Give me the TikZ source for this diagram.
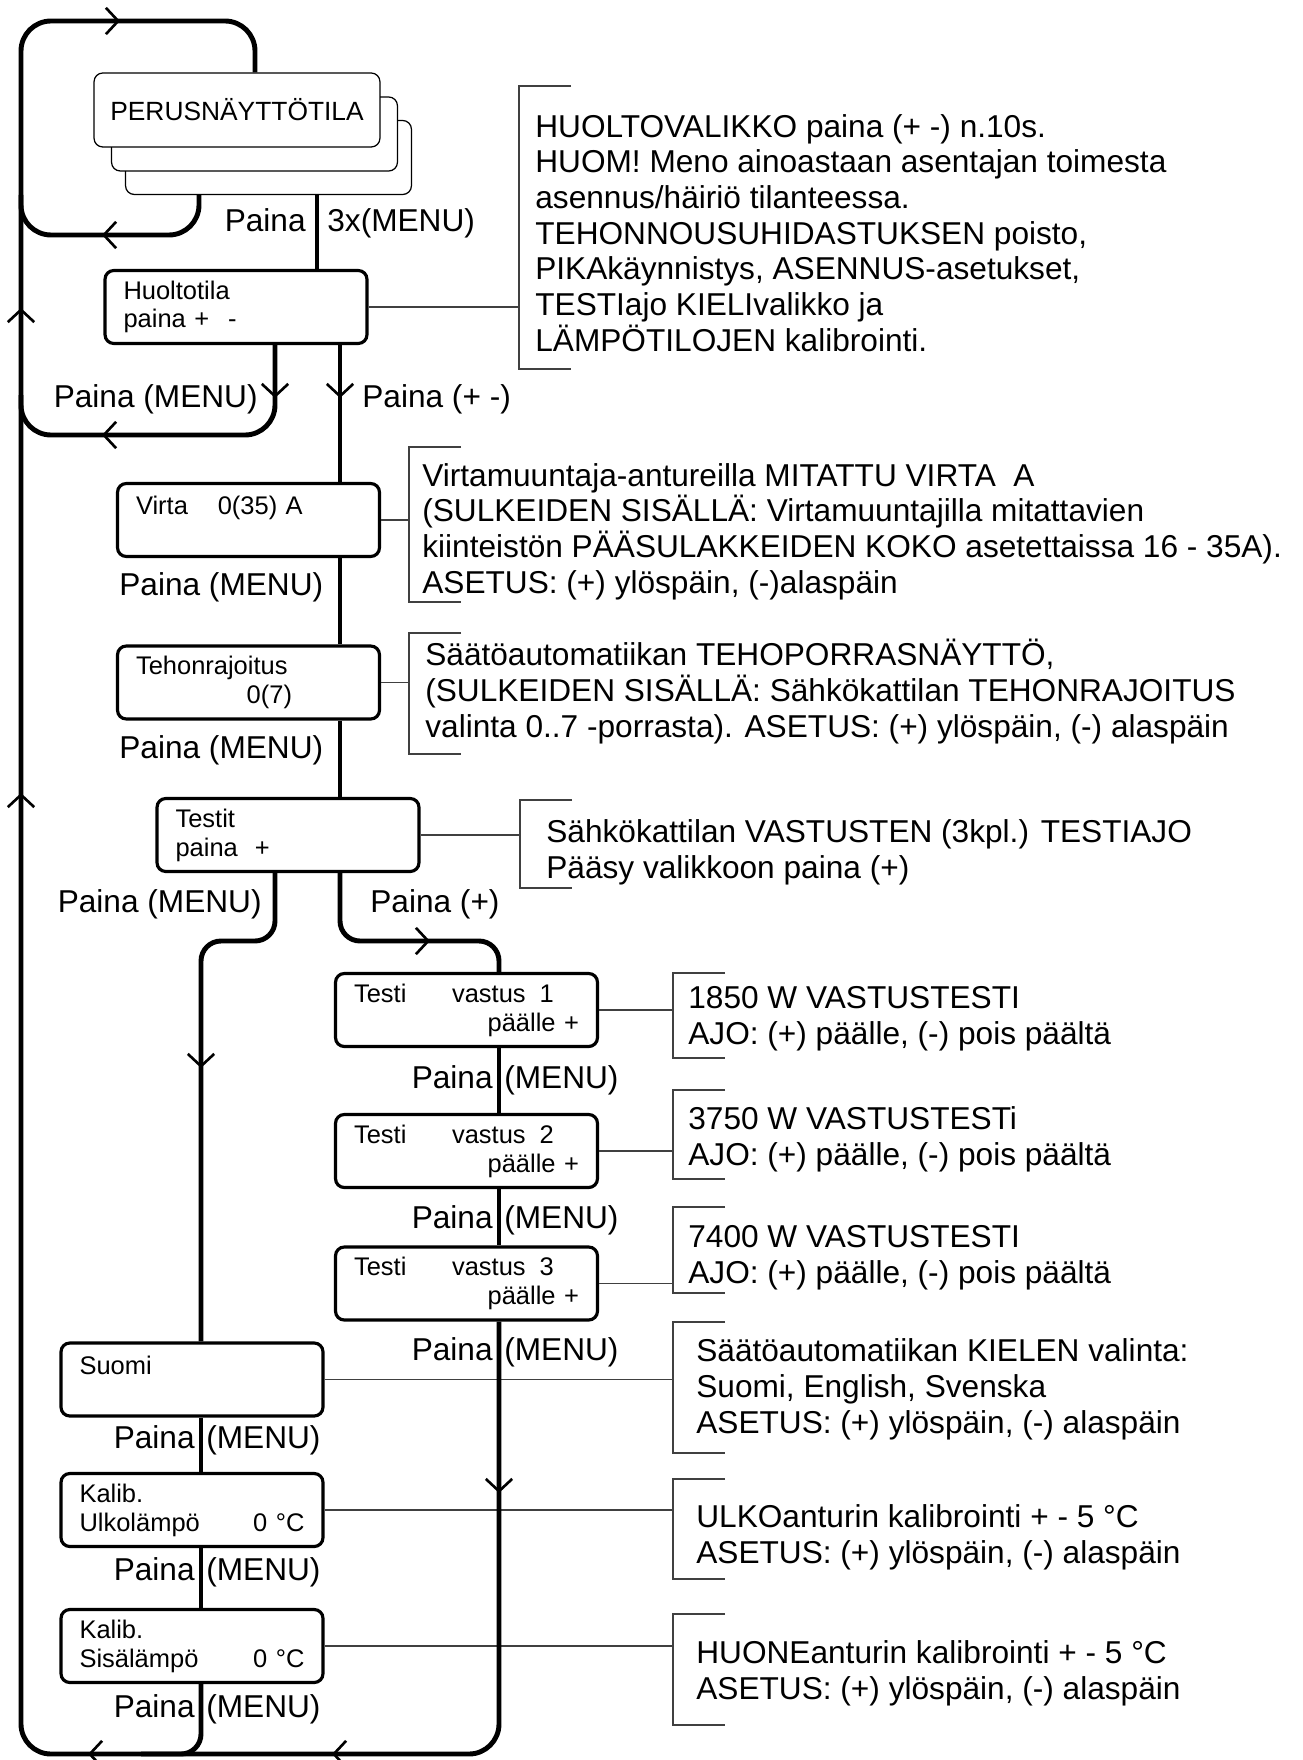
\documentclass[tikz,border=0pt]{standalone}
\usepackage{fontspec}
\setmainfont{Liberation Sans}
\usetikzlibrary{arrows.meta}

\begin{document}
\begin{tikzpicture}[x=0.02cm,y=-0.02cm,
	flow/.style={line width=2.8pt, rounded corners=#1},
	flow/.default=0.6cm,
	chev/.style={line width=1.5pt, -{Straight Barb[length=7pt,width=15pt]}},
	menubox/.style={draw, line width=1.8pt, rounded corners=5pt, minimum width=5.24cm, minimum height=1.46cm,
		text width=4.5cm, inner xsep=0.37cm, inner ysep=0pt, align=left, font=\fontsize{14.5}{16.4}\selectfont},
	stackbox/.style={draw, line width=0.7pt, fill=white, rounded corners=5pt, minimum width=5.72cm,
		minimum height=1.48cm, font=\fontsize{15}{17}\selectfont},
	lbl/.style={inner sep=0pt, font=\fontsize{18}{20.3}\selectfont},
	note/.style={lbl, align=left, anchor=base west},
	lead/.style={line width=0.6pt, black!75}]
\useasboundingbox (0,0) rectangle (1302,1760);

% main display, three layers
\node[stackbox] (perusc) at (268.5,157.5) {};
\node[stackbox] (perusb) at (254.5,134) {};
\node[stackbox] (perus) at (237,110) {PERUSNÄYTTÖTILA};

\node[menubox] (huolto) at (236,307) {Huoltotila\\paina + \hspace{6pt}-};
\node[menubox] (virta) at (248.5,520) {Virta\hspace{17pt}0(35) A\\\mbox{}};
\node[menubox] (tehon) at (248.5,682.5) {Tehonrajoitus\\\hspace*{63pt}0(7)};
\node[menubox] (testit) at (288,835) {Testit\\paina\ \ +};
\node[menubox] (testia) at (466.5,1010) {Testi\hspace{26pt}vastus\hspace{8pt}1\\\mbox{}\hfill päälle +};
\node[menubox] (testib) at (466.5,1151) {Testi\hspace{26pt}vastus\hspace{8pt}2\\\mbox{}\hfill päälle +};
\node[menubox] (testic) at (466.5,1283.5) {Testi\hspace{26pt}vastus\hspace{8pt}3\\\mbox{}\hfill päälle +};
\node[menubox] (suomi) at (192,1379.5) {Suomi\\\mbox{}};
\node[menubox] (ulko) at (192,1510) {Kalib.\\Ulkolämpö\hfill 0 °C};
\node[menubox] (sisa) at (192,1646) {Kalib.\\Sisälämpö\hfill 0 °C};

% key labels
\node[lbl, anchor=base east] (l0a) at (306,232) {Paina};
\node[lbl, anchor=base west] (l0b) at (327,232) {3x(MENU)};
\node[lbl, anchor=base east] (l1a) at (258,407) {Paina (MENU)};
\node[lbl, anchor=base west] (l1b) at (362,407) {Paina (+ -)};
\node[lbl, anchor=base west] (l2) at (119,595) {Paina (MENU)};
\node[lbl, anchor=base west] (l3) at (119,758) {Paina (MENU)};
\node[lbl, anchor=base east] (l4a) at (262,912) {Paina (MENU)};
\node[lbl, anchor=base west] (l4b) at (370,912) {Paina (+)};
\foreach \x/\y in {499/1088,499/1228,499/1360,201/1448,201/1580,201/1717}{
	\node[lbl, anchor=base east] (pa\y) at (\x-6,\y) {Paina};
	\node[lbl, anchor=base west] (pb\y) at (\x+5,\y) {(MENU)};
}

% explanations (placed by their last line)
\node[note] (n1) at (535,351) {HUOLTOVALIKKO paina (+ -) n.10s.\\HUOM! Meno ainoastaan asentajan toimesta\\asennus/häiriö tilanteessa.\\TEHONNOUSUHIDASTUKSEN poisto,\\PIKAkäynnistys, ASENNUS-asetukset,\\TESTIajo KIELIvalikko ja\\LÄMPÖTILOJEN kalibrointi.};
\node[note] (n2) at (422,593) {Virtamuuntaja-antureilla MITATTU VIRTA\ \ A\\(SULKEIDEN SISÄLLÄ: Virtamuuntajilla mitattavien\\kiinteistön PÄÄSULAKKEIDEN KOKO asetettaissa 16 - 35A).\\ASETUS: (+) ylöspäin, (-)alaspäin};
\node[note] (n3) at (425,737) {Säätöautomatiikan TEHOPORRASNÄYTTÖ,\\(SULKEIDEN SISÄLLÄ: Sähkökattilan TEHONRAJOITUS\\valinta 0..7 -porrasta). ASETUS: (+) ylöspäin, (-) alaspäin};
\node[note] (n4) at (546,878) {Sähkökattilan VASTUSTEN (3kpl.) TESTIAJO\\Pääsy valikkoon paina (+)};
\node[note] (n5) at (688,1044) {1850 W VASTUSTESTI\\AJO: (+) päälle, (-) pois päältä};
\node[note] (n6) at (688,1165) {3750 W VASTUSTESTi\\AJO: (+) päälle, (-) pois päältä};
\node[note] (n7) at (688,1283) {7400 W VASTUSTESTI\\AJO: (+) päälle, (-) pois päältä};
\node[note] (n8) at (696,1433) {Säätöautomatiikan KIELEN valinta:\\Suomi, English, Svenska\\ASETUS: (+) ylöspäin, (-) alaspäin};
\node[note] (n9) at (696,1563) {ULKOanturin kalibrointi + - 5 °C\\ASETUS: (+) ylöspäin, (-) alaspäin};
\node[note] (n10) at (696,1699) {HUONEanturin kalibrointi + - 5 °C\\ASETUS: (+) ylöspäin, (-) alaspäin};

% brackets and leaders
\foreach \x/\ya/\yb in {519/86/369,409/447/602,409/633/754,520/800/888,673/973/1058,673/1090/1179,673/1207/1293,673/1322/1453,673/1479/1579,673/1614/1725}
	\draw[lead] (\x+52,\ya) -- (\x,\ya) -- (\x,\yb) -- (\x+52,\yb);
\coordinate (kh) at (519,0);
\coordinate (kv) at (409,0);
\coordinate (kt) at (520,0);
\coordinate (kr) at (673,0);
\foreach \n/\k in {huolto/kh,virta/kv,tehon/kv,testit/kt,testia/kr,testib/kr,testic/kr,suomi/kr,ulko/kr,sisa/kr}
	\draw[lead] (\n.east) -- (\n.east -| \k);

% flow lines
\coordinate (xl) at (21,0);
\coordinate (xi) at (199,0);
\coordinate (xt) at (255,0);
\coordinate (xa) at (317,0);
\coordinate (xb) at (275,0);
\coordinate (xc) at (340,0);
\coordinate (xd) at (201,0);
\coordinate (xe) at (499,0);
\coordinate (yt) at (0,21);
\coordinate (yi) at (0,235);
\coordinate (yh) at (0,435);
\coordinate (ys) at (0,941);
\coordinate (yb) at (0,1754);
\draw[flow] (testic.south -| xe) -- (xe |- yb) -- (xl |- yb) -- (xl |- yt) -- (xt |- yt) -- (perus.north -| xt);
\draw[flow] (perusc.south -| xa) -- (huolto.north -| xa);
\draw[flow] (perusc.south -| xi) -- (xi |- yi) -- (xl |- yi) -- ++(0,-40);
\draw[flow] (huolto.south -| xb) -- (xb |- yh) -- (xl |- yh) -- ++(0,-40);
\draw[flow] (huolto.south -| xc) -- (virta.north -| xc);
\draw[flow] (virta.south -| xc) -- (tehon.north -| xc);
\draw[flow] (tehon.south -| xc) -- (testit.north -| xc);
\draw[flow=0.4cm] (testit.south -| xb) -- (xb |- ys) -- (xd |- ys) -- (suomi.north -| xd);
\draw[flow=0.4cm] (testit.south -| xc) -- (xc |- ys) -- (xe |- ys) -- (testia.north -| xe);
\draw[flow] (testia.south -| xe) -- (testib.north -| xe);
\draw[flow] (testib.south -| xe) -- (testic.north -| xe);
\draw[flow] (suomi.south -| xd) -- (ulko.north -| xd);
\draw[flow] (ulko.south -| xd) -- (sisa.north -| xd);
\draw[flow=0.4cm] (sisa.south -| xd) -- (xd |- yb) -- ++(-60,0);

% direction marks
\draw[chev] (90,21) -- (120,21);
\draw[chev] (132,235) -- (102,235);
\draw[chev] (275,368) -- (275,398);
\draw[chev] (340,368) -- (340,398);
\draw[chev] (132,435) -- (102,435);
\draw[chev] (21,338) -- (21,308);
\draw[chev] (21,823) -- (21,793);
\draw[chev] (400,941) -- (430,941);
\draw[chev] (201,1038) -- (201,1068);
\draw[chev] (499,1463) -- (499,1493);
\draw[chev] (118,1754) -- (88,1754);
\draw[chev] (362,1754) -- (332,1754);
\end{tikzpicture}
\end{document}
